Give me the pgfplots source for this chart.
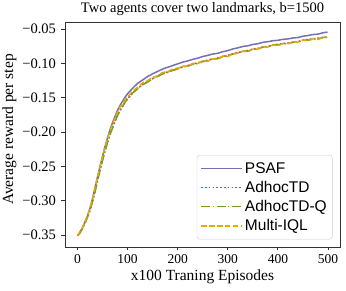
\documentclass[border=0pt]{standalone}
\usepackage{pgfplots}
\pgfplotsset{compat=1.18}
\usepackage{fontspec}
\setmainfont{Liberation Serif}
\setsansfont{Liberation Sans}
\definecolor{cpsaf}{RGB}{117,112,179}
\definecolor{adpink}{RGB}{231,41,138}
\definecolor{cadhocq}{RGB}{102,166,30}
\definecolor{ciql}{RGB}{230,171,2}
\definecolor{frame}{RGB}{51,51,51}
\begin{document}
\begin{tikzpicture}
\path[use as bounding box] (-65pt,-44pt) rectangle (281pt,247pt);
\begin{axis}[
  scale only axis, width=275pt, height=225pt,
  at={(0,0)}, anchor=south west,
  xmin=-25, xmax=524, ymin=-0.3675, ymax=-0.0395,
  xtick={0,100,200,300,400,500},
  xticklabels={\textrm{0},\textrm{100},\textrm{200},\textrm{300},\textrm{400},\textrm{500}},
  ytick={-0.35,-0.30,-0.25,-0.20,-0.15,-0.10,-0.05},
  yticklabels={\textrm{\char"2212 0.35},\textrm{\char"2212 0.30},\textrm{\char"2212 0.25},\textrm{\char"2212 0.20},\textrm{\char"2212 0.15},\textrm{\char"2212 0.10},\textrm{\char"2212 0.05}},
  tick align=outside, tick pos=left,
  major tick length=3.5pt,
  every tick/.style={frame, line width=0.8pt},
  axis line style={frame, line width=0.8pt},
  xticklabel style={font=\fontsize{13.5}{15}\selectfont},
  yticklabel style={font=\fontsize{14.5}{16}\selectfont, xshift=-2pt},
  title={Two agents cover two landmarks, b=1500},
  title style={font=\fontsize{14.5}{16}\selectfont, yshift=-3pt},
  xlabel={x100 Traning Episodes},
  ylabel={Average reward per step},
  label style={font=\fontsize{15.5}{17}\selectfont},
  xlabel style={yshift=0pt},
  ylabel style={yshift=-1pt, xshift=5pt},
  legend cell align=left,
  legend style={at={(1,0)}, anchor=south east, xshift=-7.5pt, yshift=7.5pt,
    font=\sffamily\fontsize{15.5}{17}\selectfont, draw=black!20, rounded corners=3pt,
    row sep=2.5pt, inner xsep=3.5pt, inner ysep=5pt},
  legend image code/.code={\draw[#1, line width=1.3pt] (0pt,0pt) -- (31pt,0pt); \path (0pt,0pt) -- (41pt,0pt);},
  every axis plot/.append style={line width=1.5pt},
]
\addplot[color=cpsaf, solid] coordinates {
(0,-0.351)(5,-0.346)(10,-0.339)(15,-0.331)(20,-0.322)(25,-0.311)(30,-0.297)(35,-0.281)(40,-0.265)(45,-0.250)
(50,-0.235)(55,-0.221)(60,-0.208)(65,-0.196)(70,-0.186)(75,-0.177)(80,-0.168)(85,-0.161)(90,-0.155)(95,-0.149)
(100,-0.144)(110,-0.136)(120,-0.129)(130,-0.124)(140,-0.119)(150,-0.115)(160,-0.1115)(170,-0.108)(180,-0.1055)(190,-0.103)
(200,-0.1005)(210,-0.098)(220,-0.0962)(230,-0.094)(240,-0.0922)(250,-0.0898)(260,-0.0882)(270,-0.0862)(280,-0.0852)(290,-0.0828)
(300,-0.0812)(310,-0.0788)(320,-0.0772)(330,-0.0752)(340,-0.0742)(350,-0.0722)(360,-0.0712)(370,-0.0692)(380,-0.0682)(390,-0.0668)
(400,-0.0662)(410,-0.0648)(420,-0.0642)(430,-0.0628)(440,-0.0622)(450,-0.0602)(460,-0.0592)(470,-0.0578)(480,-0.0572)(490,-0.0552)(499,-0.0542)
};
\addlegendentry{PSAF}
\addplot[color=adpink, dash pattern=on 1.6pt off 2.2pt] coordinates {
(0,-0.351)(5,-0.346)(10,-0.340)(15,-0.332)(20,-0.324)(25,-0.314)(30,-0.301)(35,-0.286)(40,-0.270)(45,-0.255)
(50,-0.240)(55,-0.227)(60,-0.214)(65,-0.203)(70,-0.193)(75,-0.184)(80,-0.175)(85,-0.168)(90,-0.162)(95,-0.156)
(100,-0.151)(110,-0.143)(120,-0.136)(130,-0.131)(140,-0.126)(150,-0.122)(160,-0.118)(170,-0.115)(180,-0.112)(190,-0.110)
(200,-0.107)(210,-0.105)(220,-0.103)(230,-0.101)(240,-0.099)(250,-0.097)(260,-0.095)(270,-0.0935)(280,-0.092)(290,-0.090)
(300,-0.088)(310,-0.086)(320,-0.084)(330,-0.0825)(340,-0.081)(350,-0.079)(360,-0.078)(370,-0.076)(380,-0.075)(390,-0.073)
(400,-0.072)(410,-0.071)(420,-0.070)(430,-0.069)(440,-0.068)(450,-0.066)(460,-0.065)(470,-0.064)(480,-0.063)(490,-0.062)(499,-0.061)
};
\addlegendentry{AdhocTD}
\addplot[color=cadhocq, dash pattern=on 9pt off 2.4pt on 1.5pt off 2.4pt] coordinates {
(0,-0.351)(5,-0.347)(10,-0.340)(15,-0.333)(20,-0.324)(25,-0.313)(30,-0.301)(35,-0.287)(40,-0.271)(45,-0.256)
(50,-0.241)(55,-0.227)(60,-0.215)(65,-0.203)(70,-0.194)(75,-0.184)(80,-0.176)(85,-0.168)(90,-0.163)(95,-0.156)
(100,-0.152)(110,-0.143)(120,-0.137)(130,-0.131)(140,-0.127)(150,-0.122)(160,-0.119)(170,-0.115)(180,-0.113)(190,-0.110)
(200,-0.108)(210,-0.105)(220,-0.104)(230,-0.101)(240,-0.100)(250,-0.097)(260,-0.096)(270,-0.093)(280,-0.093)(290,-0.090)
(300,-0.089)(310,-0.086)(320,-0.085)(330,-0.082)(340,-0.082)(350,-0.079)(360,-0.079)(370,-0.076)(380,-0.076)(390,-0.073)
(400,-0.073)(410,-0.071)(420,-0.071)(430,-0.069)(440,-0.069)(450,-0.066)(460,-0.066)(470,-0.064)(480,-0.064)(490,-0.062)(499,-0.062)
};
\addlegendentry{AdhocTD-Q}
\addplot[color=ciql, dash pattern=on 5.5pt off 2.4pt] coordinates {
(0,-0.351)(5,-0.345)(10,-0.339)(15,-0.330)(20,-0.322)(25,-0.310)(30,-0.297)(35,-0.280)(40,-0.266)(45,-0.249)
(50,-0.236)(55,-0.221)(60,-0.210)(65,-0.197)(70,-0.189)(75,-0.179)(80,-0.171)(85,-0.163)(90,-0.159)(95,-0.152)
(100,-0.149)(110,-0.140)(120,-0.135)(130,-0.128)(140,-0.125)(150,-0.120)(160,-0.118)(170,-0.113)(180,-0.112)(190,-0.108)
(200,-0.107)(210,-0.104)(220,-0.104)(230,-0.100)(240,-0.100)(250,-0.096)(260,-0.097)(270,-0.093)(280,-0.094)(290,-0.089)
(300,-0.090)(310,-0.086)(320,-0.085)(330,-0.082)(340,-0.083)(350,-0.079)(360,-0.079)(370,-0.076)(380,-0.076)(390,-0.073)
(400,-0.074)(410,-0.071)(420,-0.071)(430,-0.069)(440,-0.069)(450,-0.066)(460,-0.067)(470,-0.064)(480,-0.065)(490,-0.062)(499,-0.062)
};
\addlegendentry{Multi-IQL}
\end{axis}
\end{tikzpicture}
\end{document}
